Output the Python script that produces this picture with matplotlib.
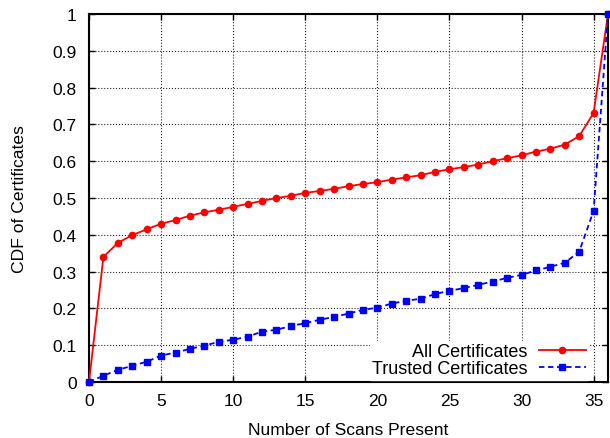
import matplotlib
matplotlib.use('Agg')
import matplotlib.pyplot as plt
import numpy as np

plt.rcParams['font.family'] = ['Liberation Sans', 'DejaVu Sans']

scans = np.arange(0, 37)

# CDF values
all_certs = [0.0, 0.340, 0.378, 0.399, 0.415, 0.430, 0.440, 0.452, 0.461, 0.468,
             0.476, 0.484, 0.492, 0.500, 0.506, 0.514, 0.519, 0.525, 0.532, 0.538,
             0.543, 0.550, 0.556, 0.562, 0.571, 0.578, 0.584, 0.591, 0.600, 0.608,
             0.616, 0.626, 0.634, 0.645, 0.668, 0.731, 1.0]
trusted_certs = [0.0, 0.017, 0.033, 0.044, 0.055, 0.072, 0.080, 0.090, 0.099, 0.109,
                 0.115, 0.123, 0.137, 0.142, 0.152, 0.160, 0.169, 0.177, 0.186, 0.196,
                 0.202, 0.213, 0.221, 0.226, 0.239, 0.248, 0.255, 0.264, 0.273, 0.283,
                 0.291, 0.303, 0.313, 0.324, 0.354, 0.465, 1.0]

xticks = [0, 5, 10, 15, 20, 25, 30, 35]
yticks = [0, 0.1, 0.2, 0.3, 0.4, 0.5, 0.6, 0.7, 0.8, 0.9, 1]
ytick_labels = ['0', '0.1', '0.2', '0.3', '0.4', '0.5', '0.6', '0.7', '0.8', '0.9', '1']

fig = plt.figure(figsize=(6.1, 4.39), dpi=100)
ax = fig.add_axes([89/610, 56/439, 519/610, 368/439])

ax.plot(scans, all_certs, color='red', lw=1.3, marker='o', markersize=4.5,
        label='All Certificates', clip_on=False, zorder=3)
ax.plot(scans, trusted_certs, color='blue', lw=1.3, ls=(0, (3, 2)), marker='s',
        markersize=5, label='Trusted Certificates', clip_on=False, zorder=4)

ax.set_xlim(0, 36)
ax.set_ylim(0, 1)
ax.set_xticks(xticks)
ax.set_yticks(yticks)
ax.set_yticklabels(ytick_labels)
ax.tick_params(direction='in', top=True, right=True, labelsize=12.5, length=4,
               width=1)
ax.tick_params(axis='x', pad=8)
ax.tick_params(axis='y', pad=9)
ax.grid(True, ls=':', color='black', lw=0.8, alpha=0.85)
for s in ax.spines.values():
    s.set_linewidth(1.5)

ax.set_xlabel('Number of Scans Present', fontsize=12.6, labelpad=10)
ax.set_ylabel('CDF of Certificates', fontsize=12.6, labelpad=18)

leg = ax.legend(loc='lower right', bbox_to_anchor=(0.962, 0.005), markerfirst=False,
                fontsize=13, frameon=True, fancybox=False, framealpha=1,
                edgecolor='white', handlelength=2.6, handletextpad=0.6,
                labelspacing=0.0, borderpad=0.15, borderaxespad=0)
leg.set_zorder(5)

fig.savefig('out.png', dpi=100)
